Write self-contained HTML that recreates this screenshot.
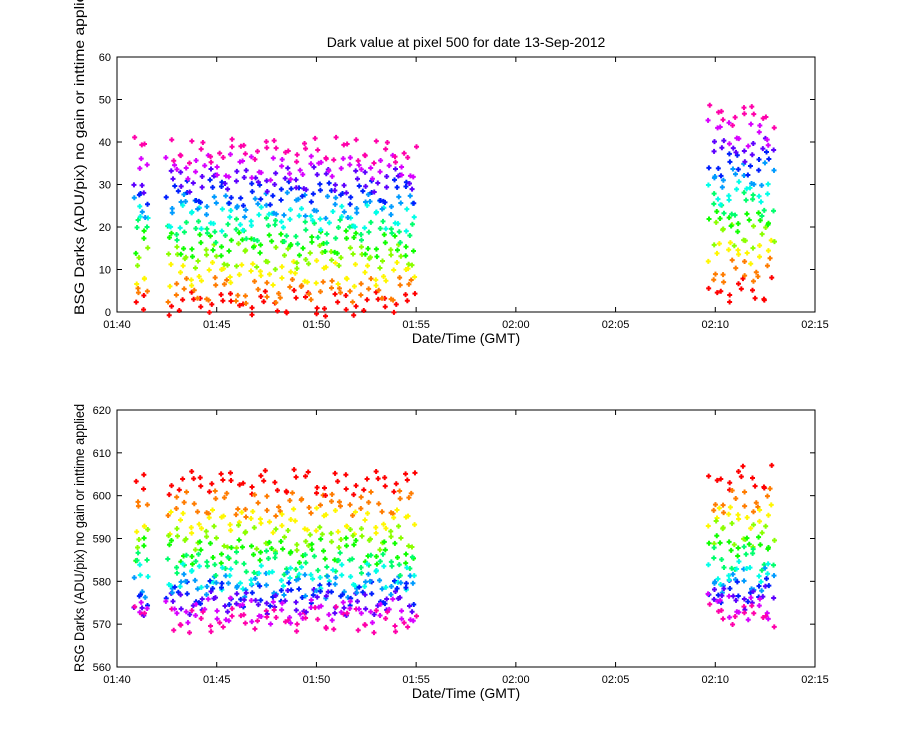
<!DOCTYPE html>
<html><head><meta charset="utf-8"><style>
body{margin:0;background:#fff;}
svg text{font-family:"Liberation Sans",sans-serif;}
</style></head><body>
<svg id="chart" width="900" height="750" xmlns="http://www.w3.org/2000/svg">
<rect width="900" height="750" fill="#fff"/>
<text x="466" y="47" font-size="14" text-anchor="middle">Dark value at pixel 500 for date 13-Sep-2012</text>
<g id="top"></g>
<g id="bot"></g>
</svg>
<script>
// time segments in minutes after 01:40: [start, end, step]
const segments = [[1.0, 1.45, 0.22], [2.6, 14.9, 0.25], [29.8, 32.9, 0.25]];
// band levels (red -> magenta)
const bsgLevelsEarly = [2, 5, 9, 13, 16, 19, 22, 25, 28, 31, 34, 38];
const bsgLevelsLate = [5, 10, 14, 18, 21, 25, 28, 32, 35, 38, 42, 46];
const rsgLevelsEarly = [603, 598, 594, 590, 587, 584, 581, 579, 577, 575, 573, 571];
const rsgLevelsLate = [604, 599, 595, 591, 588, 585, 582, 580, 578, 576, 574, 572];
const jitter = [0.3,-1.8,2.1,-0.6,1.4,-2.4,0.9,-1.1,2.6,-0.2,1.7,-2.0,0.5,-1.5,2.3,-0.9,1.1,-2.7,0.1,1.9,-1.3,2.8,-0.4,0.8,-2.2,1.5,-0.7,2.0,-1.6,0.6,-2.5,1.2,-0.1,2.4,-1.0,0.4,-1.9];
const xTickLabels = ["01:40","01:45","01:50","01:55","02:00","02:05","02:10","02:15"];
const bsgTicks = [0,10,20,30,40,50,60];
const rsgTicks = [560,570,580,590,600,610,620];

const NS = "http://www.w3.org/2000/svg";
const X0 = 117, X1 = 815;
const xScale = m => X0 + (m / 35) * (X1 - X0);
function mk(tag, attrs, parent){const e=document.createElementNS(NS,tag);for(const k in attrs)e.setAttribute(k,attrs[k]);parent.appendChild(e);return e;}

function panel(g, yTop, yBot, ticks, levelsE, levelsL, ylabel, ylabelY, ylabelLen){
  const vmin = ticks[0], vmax = ticks[ticks.length-1];
  const y = v => yBot - (v - vmin) / (vmax - vmin) * (yBot - yTop);
  const frame = mk("rect",{x:X0,y:yTop,width:X1-X0,height:yBot-yTop,fill:"none",stroke:"#000","stroke-width":1},g);
  
  
  ticks.forEach(t=>{
    const l = mk("line",{x1:X0,x2:X0+5,y1:y(t),y2:y(t),stroke:"#000"},g);
    
    
    const l2 = mk("line",{x1:X1,x2:X1-5,y1:y(t),y2:y(t),stroke:"#000"},g);
    
    
    const tx = mk("text",{x:X0-6,y:y(t)+4,"font-size":11,"text-anchor":"end"},g);
    tx.textContent = t;
    
    
  });
  xTickLabels.forEach((lab,i)=>{
    const xx = xScale(i*5);
    const l = mk("line",{x1:xx,x2:xx,y1:yBot,y2:yBot-5,stroke:"#000"},g);
    
    
    const l2 = mk("line",{x1:xx,x2:xx,y1:yTop,y2:yTop+5,stroke:"#000"},g);
    
    
    const tx = mk("text",{x:xx,y:yBot+16,"font-size":11,"text-anchor":"middle"},g);
    tx.textContent = lab;
    
    
  });
  const xt = mk("text",{x:(X0+X1)/2,y:yBot+31,"font-size":14,"text-anchor":"middle"},g);
  xt.textContent = "Date/Time (GMT)";
  
  
  const yt = mk("text",{x:0,y:0,"font-size":14,"text-anchor":"middle",textLength:ylabelLen,lengthAdjust:"spacingAndGlyphs",transform:`translate(84,${ylabelY}) rotate(-90)`},g);
  yt.textContent = ylabel;
  
  
  let k = 0;
  const pts = mk("g",{},g);
  
  
  segments.forEach((s,si)=>{
    const lv = si===2 ? levelsL : levelsE;
    for(let t=s[0]; t<=s[1]+1e-6; t+=s[2]){
      lv.forEach((v,b)=>{
        const j = jitter[(k*7+b*5)%jitter.length];
        k++;
        const val = v + j*1.1;
        const px = xScale(t) + jitter[(k*3)%jitter.length]*1.2, py = y(val);
        const hue = b/(lv.length-1)*320;
        const p = mk("path",{d:`M${px-2.5},${py}h5M${px},${py-2.5}v5`,stroke:`hsl(${hue},100%,50%)`,"stroke-width":2},pts);
        
        
      });
    }
  });
}
panel(document.getElementById("top"),57,312,bsgTicks,bsgLevelsEarly,bsgLevelsLate,"BSG Darks (ADU/pix) no gain or inttime applied",150,330);
panel(document.getElementById("bot"),410,667,rsgTicks,rsgLevelsEarly,rsgLevelsLate,"RSG Darks (ADU/pix) no gain or inttime applied",538,268);
</script>
</body></html>
